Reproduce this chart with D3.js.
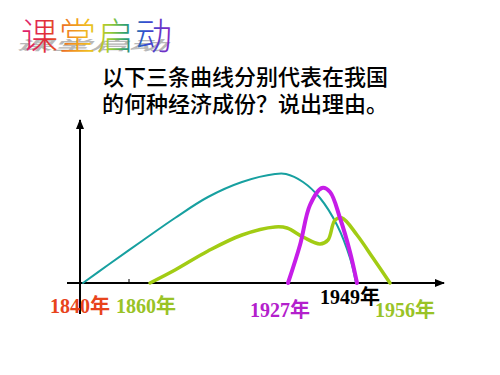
<!DOCTYPE html>
<html>
<head>
<meta charset="utf-8">
<script src="https://cdn.jsdelivr.net/npm/d3@7"></script>
<style>
  html, body { margin: 0; padding: 0; background: #fff; }
  svg { display: block; }
</style>
</head>
<body>
<svg id="chart"></svg>
<script>
// curve points, x in abstract time units, y in abstract share units
const tealCurve = [[3,0],[28,18],[62,42],[95,65],[128,86],[162,101],[195,109],[206,109],[223,101],[240,85],[257,58],[270,25],[276,0]];
const greenCurve = [[70,0],[95,13],[128,32],[162,48],[195,56],[207,55],[223,46],[240,39],[248,43],[255,63],[262,65],[277,48],[293,25],[310,0]];
const magentaCurve = [[208,0],[220,38],[230,78],[242,95],[250,91],[260,65],[270,31],[277,0]];

const yearLabels = ["1840年", "1860年", "1927年", "1949年", "1956年"];
const yearPos = [0, 66, 200, 270, 325];
const yearColors = ["#e8441c", "#99c326", "#b320cc", "#000000", "#99c326"];

const title = "课堂启动";
const question = ["以下三条曲线分别代表在我国", "的何种经济成份？说出理由。"];

const width = 500;
const height = 375;

const svg = d3.select("#chart")
    .attr("width", width)
    .attr("height", height)
    .attr("viewBox", [0, 0, width, height]);

const x = d3.scaleLinear().domain([0, 360]).range([80, 440]);
const y = d3.scaleLinear().domain([0, 160]).range([283, 123]);

// rainbow title with a skewed grey shadow
const defs = svg.append("defs");
const grad = defs.append("linearGradient")
    .attr("id", "rainbow")
    .attr("gradientUnits", "userSpaceOnUse")
    .attr("x1", 20).attr("x2", 175).attr("y1", 0).attr("y2", 0);
[["0", "#e0207a"], ["0.18", "#e03030"], ["0.32", "#f08a20"], ["0.45", "#f0c020"],
 ["0.58", "#9ccc30"], ["0.68", "#30a070"], ["0.8", "#3050d0"], ["1", "#9020c0"]]
    .forEach(([o, c]) => grad.append("stop").attr("offset", o).attr("stop-color", c));

svg.append("text")
    .attr("transform", "translate(14,50) skewX(-40) scale(1,0.35)")
    .attr("font-family", "Noto Sans CJK SC")
    .attr("font-size", 37)
    .attr("font-weight", 300)
    .attr("fill", "none")
    .attr("stroke", "#b8b8b8")
    .attr("stroke-width", 2)
    .attr("letter-spacing", 1)
    .text(title);

svg.append("text")
    .attr("x", 21)
    .attr("y", 50)
    .attr("font-family", "Noto Sans CJK SC")
    .attr("font-size", 37)
    .attr("font-weight", 300)
    .attr("fill", "url(#rainbow)")
    .attr("letter-spacing", 1)
    .text(title);

svg.append("g")
    .selectAll("text")
    .data(question)
    .join("text")
    .attr("x", 102)
    .attr("y", (d, i) => 85 + i * 27)
    .attr("font-family", "Noto Sans CJK SC")
    .attr("font-size", 22)
    .attr("font-weight", 500)
    .attr("fill", "#000")
    .text(d => d);

// axes
defs.append("marker")
    .attr("id", "arrow")
    .attr("viewBox", "0 0 10 10")
    .attr("refX", 9).attr("refY", 5)
    .attr("markerWidth", 5).attr("markerHeight", 5)
    .attr("orient", "auto")
    .append("path")
    .attr("d", "M0,1 L10,5 L0,9 Z")
    .attr("fill", "#000");

svg.append("line")
    .attr("x1", 67).attr("x2", 444)
    .attr("y1", y(0)).attr("y2", y(0))
    .attr("stroke", "#000").attr("stroke-width", 2)
    .attr("marker-end", "url(#arrow)");

svg.append("line")
    .attr("x1", x(0)).attr("x2", x(0))
    .attr("y1", 314).attr("y2", 120)
    .attr("stroke", "#000").attr("stroke-width", 2)
    .attr("marker-end", "url(#arrow)");

svg.append("line")
    .attr("x1", x(49)).attr("x2", x(49))
    .attr("y1", y(0)).attr("y2", y(0) - 4)
    .attr("stroke", "#000").attr("stroke-width", 1);

const line = d3.line()
    .x(d => x(d[0]))
    .y(d => y(d[1]))
    .curve(d3.curveCatmullRom.alpha(0.5));

const series = [
    { pts: tealCurve, color: "#17a0a0", w: 2 },
    { pts: greenCurve, color: "#a2cc14", w: 3.5 },
    { pts: magentaCurve, color: "#c61de8", w: 4 }
];

svg.append("g")
    .selectAll("path")
    .data(series)
    .join("path")
    .attr("d", d => line(d.pts))
    .attr("fill", "none")
    .attr("stroke", d => d.color)
    .attr("stroke-width", d => d.w)
    .attr("stroke-linecap", "round");

// year labels under the axis
const labelDy = [30, 30, 34, 21, 34];
svg.append("g")
    .selectAll("text")
    .data(yearLabels)
    .join("text")
    .attr("x", (d, i) => x(yearPos[i]))
    .attr("y", (d, i) => y(0) + labelDy[i])
    .attr("text-anchor", "middle")
    .attr("font-family", "Liberation Serif, Noto Sans CJK SC")
    .attr("font-size", 20)
    .attr("font-weight", "bold")
    .attr("fill", (d, i) => yearColors[i])
    .text(d => d);
</script>
</body>
</html>
